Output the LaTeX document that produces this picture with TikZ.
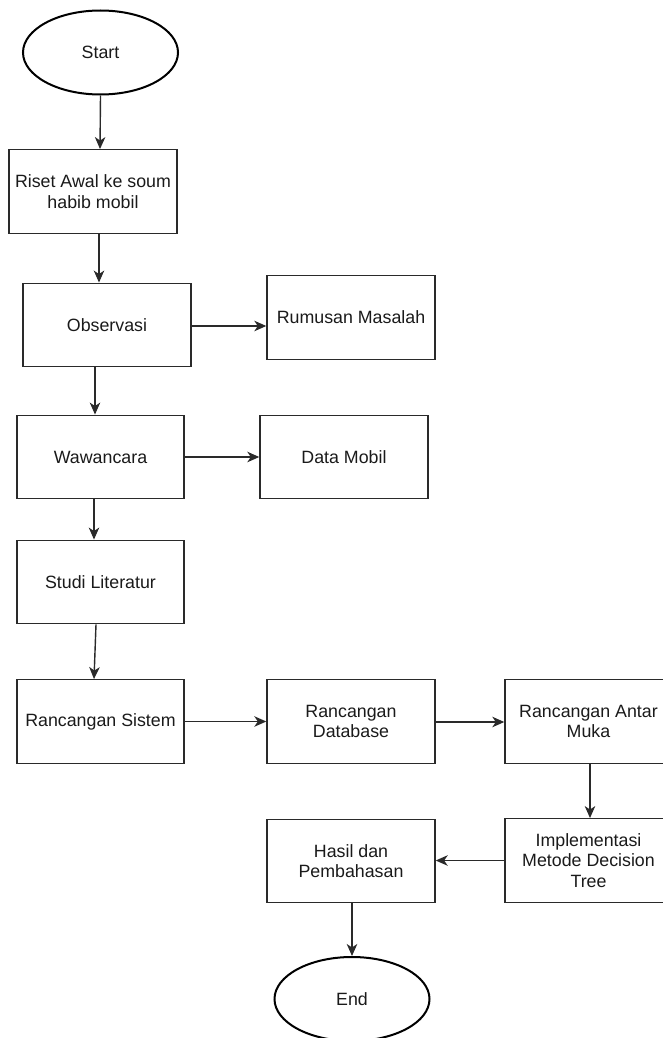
\documentclass[tikz,border=0pt]{standalone}
\usepackage{fontspec}
\setmainfont{Liberation Sans}
\usetikzlibrary{shapes.geometric,arrows.meta}
\definecolor{ink}{HTML}{1A1A1A}
\definecolor{edge}{HTML}{2A2A2A}
\begin{document}
\begin{tikzpicture}[x=1pt,y=-1pt,
  every node/.style={font=\fontsize{17.8}{20.5}\selectfont, text=ink, align=center, inner sep=0pt},
  procbox/.style={draw=edge, line width=1.4pt, rectangle, minimum width=168pt, minimum height=83.5pt},
  terminal/.style={draw=black, line width=2pt, ellipse, minimum width=155pt, minimum height=84pt},
  arr/.style={draw=edge, line width=1.4pt, -{Stealth[length=12pt,width=10.5pt,inset=3.5pt]}}
]
\useasboundingbox (0,0) rectangle (662,1038);

% terminals
\node[terminal] (start) at (100.5,52.5) {Start};
\node[terminal] (end)   at (352,999)   {End};

% left column
\node[procbox] (riset)  at (93,191.5)   {Riset Awal ke soum\\habib mobil};
\node[procbox] (obs)    at (107,325)    {Observasi};
\node[procbox, minimum width=167pt] (waw)    at (100.5,457)  {Wawancara};
\node[procbox, minimum width=167pt] (studi)  at (100.5,582)  {Studi Literatur};
\node[procbox, minimum width=167pt] (sistem) at (100.5,721.5) {Rancangan Sistem};

% side results
\node[procbox] (rumusan) at (351,317.5) {Rumusan Masalah};
\node[procbox] (data)    at (344,457)   {Data Mobil};

% design row and finishing steps
\node[procbox] (db)    at (351,721.5)   {Rancangan\\Database};
\node[procbox, minimum width=167pt] (antar) at (588.5,721.5) {Rancangan Antar\\Muka};
\node[procbox, minimum width=167pt] (impl)  at (588.5,860.5) {Implementasi\\Metode Decision\\Tree};
\node[procbox] (hasil) at (351,861)     {Hasil dan\\Pembahasan};

% flow
\draw[arr] (start.south) -- ([xshift=7pt]riset.north);
\draw[arr] ([xshift=6pt]riset.south) -- ([xshift=-8pt]obs.north);
\draw[arr] ([yshift=-1pt]obs.east) -- ([yshift=-1pt]obs.east -| rumusan.west);
\draw[arr] ([xshift=-12pt]obs.south) -- ([xshift=-5.5pt]waw.north);
\draw[arr] (waw.east) -- (waw.east -| data.west);
\draw[arr] ([xshift=-6.5pt]waw.south) -- ([xshift=-6.5pt]studi.north);
\draw[arr] ([xshift=-4.5pt]studi.south) -- ([xshift=-6.5pt]sistem.north);
\draw[arr] (sistem.east) -- (sistem.east -| db.west);
\draw[arr] ([yshift=-0.5pt]db.east) -- ([yshift=-0.5pt]db.east -| antar.west);
\draw[arr] ([xshift=1.5pt]antar.south) -- ([xshift=1.5pt]impl.north);
\draw[arr] (impl.west) -- (impl.west -| hasil.east);
\draw[arr] ([xshift=1pt]hasil.south) -- (end.north);
\end{tikzpicture}
\end{document}
